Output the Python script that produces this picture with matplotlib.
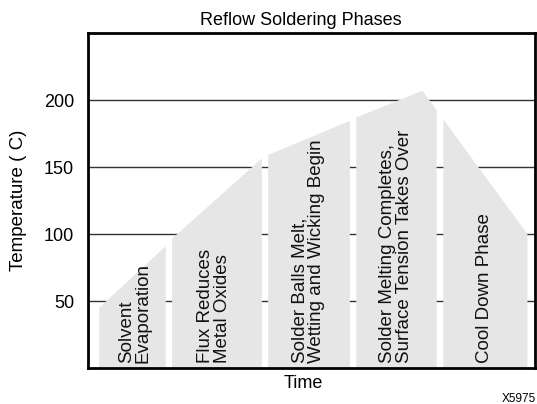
import matplotlib.pyplot as plt
from matplotlib.patches import Polygon

plt.rcParams['font.family'] = ['Liberation Sans', 'DejaVu Sans']

# Phase outlines: time positions and the temperature at the top edge
phase_x = [
    [2.5, 17.4],
    [18.8, 38.9],
    [40.3, 58.6],
    [60.0, 74.8, 78.0],
    [79.5, 98.3],
]
phase_top = [
    [45, 91],
    [96.5, 156.5],
    [159, 184.5],
    [187, 207, 192.5],
    [185.5, 100],
]
phase_labels = [
    "Solvent\nEvaporation",
    "Flux Reduces\nMetal Oxides",
    "Solder Balls Melt,\nWetting and Wicking Begin",
    "Solder Melting Completes,\nSurface Tension Takes Over",
    "Cool Down Phase",
]
label_x = [10.5, 28.2, 49.3, 68.9, 88.8]
yticks = [50, 100, 150, 200]

fig = plt.figure(figsize=(5.37, 4.04), dpi=100)
ax = fig.add_axes([0.1639, 0.0891, 0.8324, 0.829])
ax.set_xlim(0, 100)
ax.set_ylim(0, 250)

for y in yticks:
    ax.axhline(y, color='#333333', lw=1.0, zorder=1)

for xs, tops, lab, lx in zip(phase_x, phase_top, phase_labels, label_x):
    pts = [(xs[0], 0)] + list(zip(xs, tops)) + [(xs[-1], 0)]
    ax.add_patch(Polygon(pts, closed=True, facecolor='#e6e6e6', edgecolor='none', zorder=2))
    ax.text(lx, 4, lab, rotation=90, ha='center', va='bottom', multialignment='left',
            fontsize=13.5, color='#111111', linespacing=0.95, zorder=3)

ax.set_yticks(yticks)
ax.set_xticks([])
ax.tick_params(axis='y', length=0, pad=10, labelsize=13)
for s in ax.spines.values():
    s.set_linewidth(2)
    s.set_zorder(4)

ax.set_ylabel("Temperature ( C)", fontsize=13.5, labelpad=12)
ax.set_xlabel("Time", fontsize=13, labelpad=5, x=(303 - 88) / 447)
ax.set_title("Reflow Soldering Phases", fontsize=13, pad=6, x=(301 - 88) / 447)
fig.text(0.934, 0.006, "X5975", fontsize=8.5, ha='left', va='baseline')

fig.savefig("out.png", dpi=100)
